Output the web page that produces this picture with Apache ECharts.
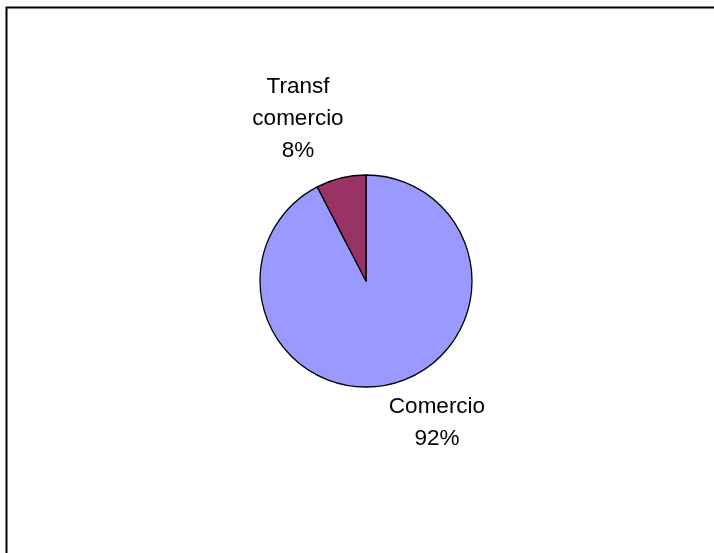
<!DOCTYPE html>
<html>
<head>
<meta charset="utf-8">
<script src="https://cdn.jsdelivr.net/npm/echarts@6/dist/echarts.min.js"></script>
<style>
html,body{margin:0;padding:0;background:#fff;}
#chart{width:714px;height:553px;}
</style>
</head>
<body>
<div id="chart"></div>
<script>
var categories = ['Comercio', 'Transf\ncomercio'];
var values = [92.4, 7.6];
var colors = ['#9999FF', '#993366'];

var total = values.reduce(function(a,b){return a+b;},0);
var chart = echarts.init(document.getElementById('chart'), null, {renderer:'canvas'});
var labelPos = [[437, 423], [298, 119]];
chart.setOption({
  animation: false,
  backgroundColor: '#ffffff',
  graphic: [{
    type: 'rect',
    shape: {x: 6.5, y: 7.5, width: 740, height: 600},
    style: {fill: 'none', stroke: '#000', lineWidth: 2},
    silent: true
  }],
  series: [{
    type: 'pie',
    center: [366, 281],
    radius: [0, 106],
    startAngle: 90,
    clockwise: true,
    data: categories.map(function(c, i){
      return {name: c, value: values[i], itemStyle: {color: colors[i]}};
    }),
    itemStyle: {borderColor: '#000', borderWidth: 1.3},
    label: {
      show: true,
      position: 'outside',
      color: '#000',
      fontFamily: 'Liberation Sans, Arial, sans-serif',
      fontSize: 22.5,
      lineHeight: 32,
      align: 'center',
      formatter: function(p){ return p.name + '\n' + Math.round(p.value / total * 100) + '%'; }
    },
    labelLine: {show: false},
    labelLayout: function(params){
      var pos = labelPos[params.dataIndex];
      return {x: pos[0], y: pos[1], align: 'center', verticalAlign: 'middle'};
    },
    emphasis: {disabled: true}
  }]
});
</script>
</body>
</html>
